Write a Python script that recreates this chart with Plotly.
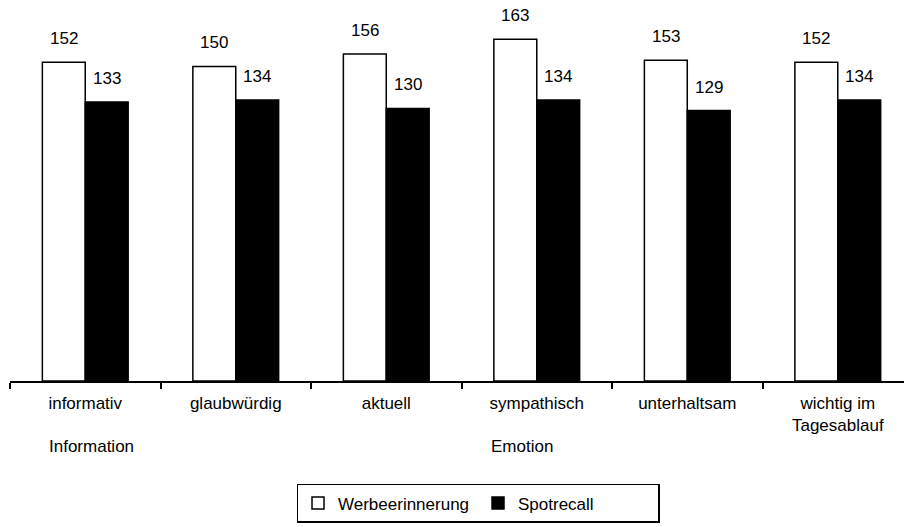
import plotly.graph_objects as go

categories = ["informativ", "glaubwürdig", "aktuell", "sympathisch", "unterhaltsam", "wichtig im<br>Tagesablauf"]
werbeerinnerung = [152, 150, 156, 163, 153, 152]
spotrecall = [133, 134, 130, 134, 129, 134]
group_labels = {0: "Information", 3: "Emotion"}

FONT = "Liberation Sans, Arial, sans-serif"
FS = 17

fig = go.Figure()
fig.add_trace(go.Bar(
    name="Werbeerinnerung", x=categories, y=werbeerinnerung,
    marker=dict(color="white", line=dict(color="black", width=1.5)),
))
fig.add_trace(go.Bar(
    name="Spotrecall", x=categories, y=spotrecall,
    marker=dict(color="black", line=dict(color="black", width=1.5)),
))

bargap = 0.43
half = (1 - bargap) / 4  # offset of each bar centre from the category centre

annotations = []
for i, (a, b) in enumerate(zip(werbeerinnerung, spotrecall)):
    annotations.append(dict(x=i - half, y=a, xref="x", yref="y", text=str(a),
                            showarrow=False, yanchor="bottom", yshift=12,
                            font=dict(family=FONT, size=FS, color="black")))
    annotations.append(dict(x=i + half, y=b, xref="x", yref="y", text=str(b),
                            showarrow=False, yanchor="bottom", yshift=12,
                            font=dict(family=FONT, size=FS, color="black")))

for idx, label in group_labels.items():
    shift = -38 if idx == 0 else -48
    annotations.append(dict(x=idx, y=-0.173, xref="x", yref="paper", text=label,
                            showarrow=False, xanchor="left", yanchor="middle",
                            xshift=shift,
                            font=dict(family=FONT, size=FS, color="black")))

fig.update_layout(
    width=904, height=527,
    margin=dict(l=10, r=0, t=0, b=146),
    paper_bgcolor="white", plot_bgcolor="white",
    barmode="group", bargap=bargap, bargroupgap=0,
    font=dict(family=FONT, size=FS, color="black"),
    xaxis=dict(
        range=[-0.5, 5.44], showline=True, linecolor="black", linewidth=1.5,
        ticks="outside", tickson="boundaries", ticklen=6, tickwidth=1.5,
        tickcolor="black", showgrid=False, zeroline=False,
        ticklabelstandoff=6,
        tickfont=dict(family=FONT, size=FS, color="black"),
    ),
    yaxis=dict(range=[0, 181.7], visible=False, showgrid=False, zeroline=False),
    showlegend=True,
    legend=dict(
        orientation="h", x=0.5235, xanchor="center", y=-0.27, yanchor="top",
        bordercolor="black", borderwidth=1.5, bgcolor="white",
        font=dict(family=FONT, size=FS, color="black"),
        itemwidth=30, traceorder="normal", entrywidth=135,
    ),
    annotations=annotations,
)

fig.write_html("out.html")
